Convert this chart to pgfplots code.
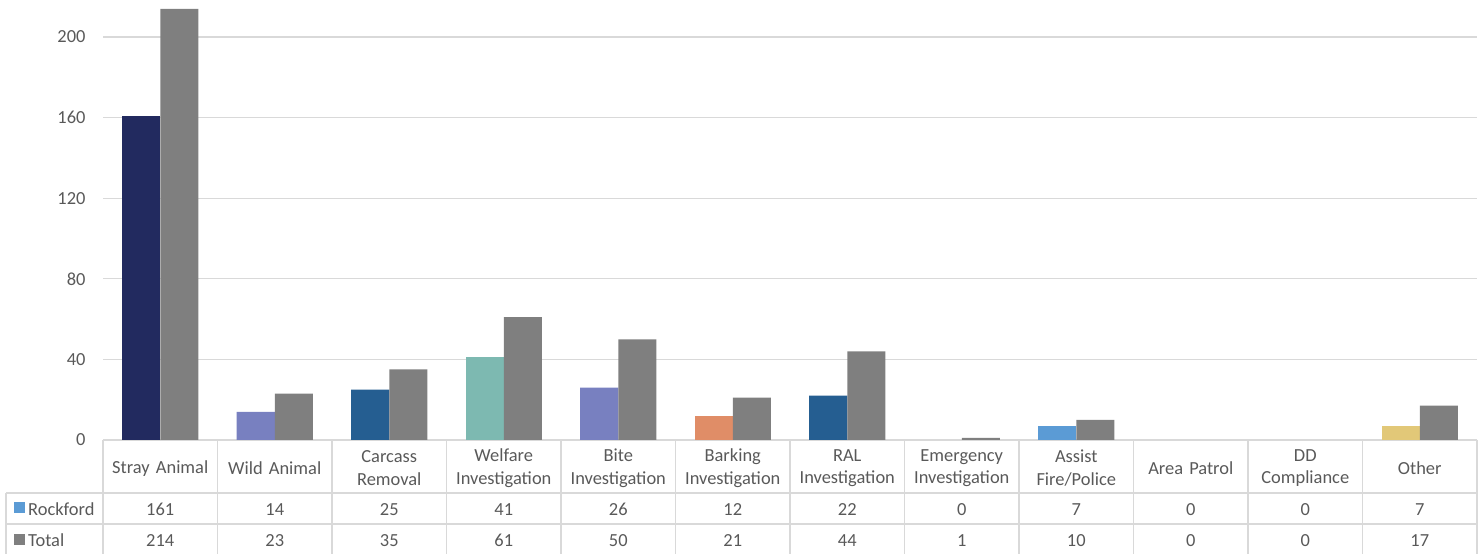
\documentclass[border=0pt]{standalone}
\usepackage{pgfplots}
\pgfplotsset{compat=1.18}
\usepackage{fontspec}
\setmainfont{Carlito}
\definecolor{txt}{HTML}{595959}
\definecolor{gridc}{HTML}{D9D9D9}
\definecolor{cNavy}{HTML}{222A5F}
\definecolor{cLav}{HTML}{7880C0}
\definecolor{cBlue}{HTML}{255E91}
\definecolor{cTeal}{HTML}{7DB9B1}
\definecolor{cOrange}{HTML}{E08D67}
\definecolor{cSky}{HTML}{5B9BD5}
\definecolor{cGold}{HTML}{E2C878}
\definecolor{cGray}{HTML}{7F7F7F}
\newcommand\lbl{\fontsize{18.5}{22.5}\selectfont}

\begin{document}
\begin{tikzpicture}
\begin{axis}[
  at={(103bp,114bp)}, anchor=south west,
  scale only axis, width=1374bp, height=440bp,
  xmin=-0.5, xmax=11.5, ymin=0, ymax=218.4,
  axis line style={draw=none},
  ytick={0,40,...,200},
  ymajorgrids, grid style={gridc, line width=1.3bp},
  major tick style={draw=none},
  xtick={0,...,11},
  xticklabels={Stray Animal, Wild Animal, {Carcass\\Removal}, {Welfare\\Investigation},
    {Bite\\Investigation}, {Barking\\Investigation}, {RAL\\Investigation},
    {Emergency\\Investigation}, {Assist\\Fire/Police}, Area Patrol, {DD\\Compliance}, Other},
  xticklabel style={anchor=center, yshift=-24bp, align=center, text width=110bp},
  yticklabel style={xshift=-14bp},
  tick label style={font=\lbl, text=txt},
  /pgf/number format/assume math mode=true,
  ybar, bar width=38.2bp,
  clip=false,
]
% Rockford, coloured per category
\addplot[fill=cNavy, draw=none, bar shift=-19.1bp] coordinates {(0,161)};
\addplot[fill=cLav, draw=none, bar shift=-19.1bp] coordinates {(1,14)(4,26)};
\addplot[fill=cBlue, draw=none, bar shift=-19.1bp] coordinates {(2,25)(6,22)};
\addplot[fill=cTeal, draw=none, bar shift=-19.1bp] coordinates {(3,41)};
\addplot[fill=cOrange, draw=none, bar shift=-19.1bp] coordinates {(5,12)};
\addplot[fill=cSky, draw=none, bar shift=-19.1bp] coordinates {(8,7)};
\addplot[fill=cGold, draw=none, bar shift=-19.1bp] coordinates {(11,7)};
% Total (zero categories left out)
\addplot[fill=cGray, draw=none, bar shift=19.1bp] coordinates {
  (0,214)(1,23)(2,35)(3,61)(4,50)(5,21)(6,44)(7,1)(8,10)(11,17)};
\end{axis}

% data table
\begin{scope}[gridc, line width=1.3bp]
  \foreach \k in {0,...,12}
    \draw ({103bp+\k*114.5bp},114bp) -- ({103bp+\k*114.5bp},0bp);
  \draw (6bp,61bp) -- (1477bp,61bp);
  \draw (6bp,30bp) -- (1477bp,30bp);
  \draw (6bp,61bp) -- (6bp,0bp);
\end{scope}
\fill[cSky] (14bp,41bp) rectangle (25bp,52bp);
\fill[cGray] (14bp,9bp) rectangle (25bp,20bp);
\node[anchor=base west, inner sep=0pt, font=\lbl, text=txt] at (28bp,39bp) {Rockford};
\node[anchor=base west, inner sep=0pt, font=\lbl, text=txt] at (28bp,8bp) {Total};
\foreach \v [count=\i from 0] in {161,14,25,41,26,12,22,0,7,0,0,7}
  \node[anchor=base, inner sep=0pt, font=\lbl, text=txt] at ({103bp+(\i+0.5)*114.5bp},39bp) {\v};
\foreach \v [count=\i from 0] in {214,23,35,61,50,21,44,1,10,0,0,17}
  \node[anchor=base, inner sep=0pt, font=\lbl, text=txt] at ({103bp+(\i+0.5)*114.5bp},8bp) {\v};

\pgfresetboundingbox
\path (0,0) rectangle (1483bp,554bp);
\end{tikzpicture}
\end{document}
